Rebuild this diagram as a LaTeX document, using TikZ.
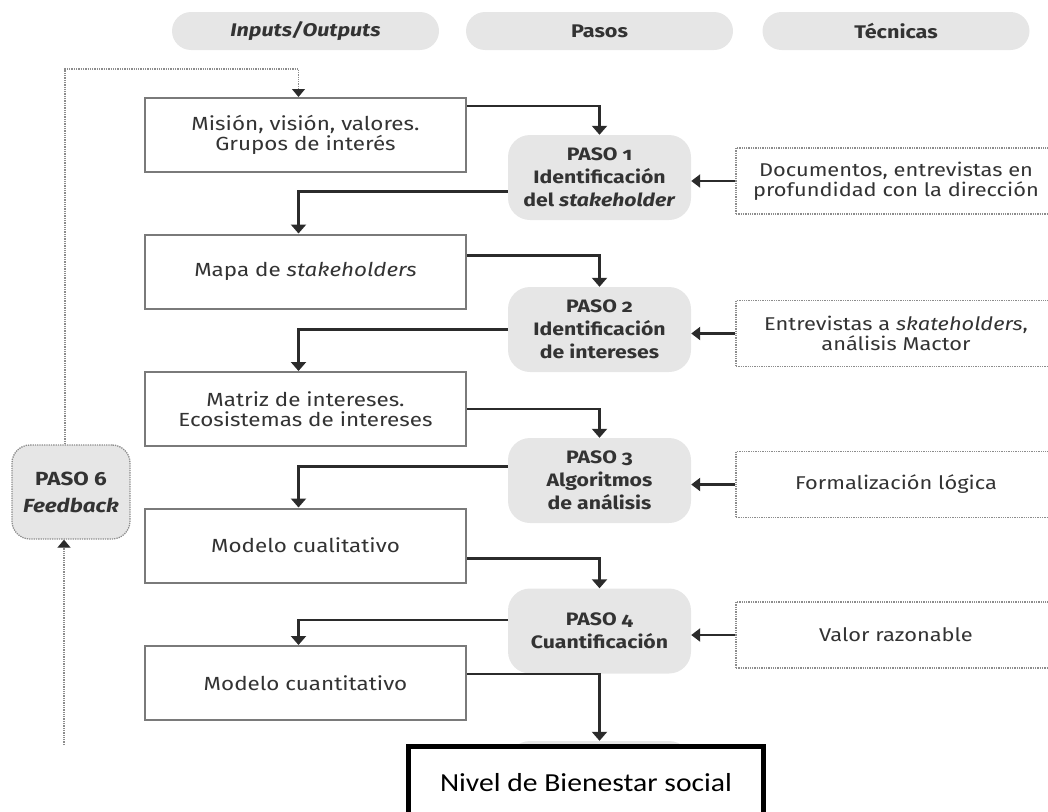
\documentclass[tikz,border=0pt]{standalone}
\usepackage{fontspec}
\setmainfont{Fira Sans}[Numbers=OldStyle, FakeStretch=1.18]
\newfontfamily\calibri{Carlito}[FakeStretch=1.14]
\usetikzlibrary{arrows.meta}

\definecolor{pillgray}{HTML}{E6E6E6}
\definecolor{txtgray}{HTML}{333333}
\definecolor{boxline}{HTML}{7A7A7A}
\definecolor{linegray}{HTML}{2B2B2B}
\definecolor{dotgray}{HTML}{8C8C8C}

\begin{document}
\begin{tikzpicture}[x=1pt,y=-1pt,
    head/.style={fill=pillgray, rounded corners=19pt, minimum width=267pt, minimum height=38pt,
      font=\fontsize{18.3}{20}\selectfont\bfseries, text=txtgray},
    iobox/.style={draw=boxline, line width=2pt, fill=white, minimum width=321pt, minimum height=74pt,
      align=center, font=\fontsize{19}{20}\selectfont, text=txtgray},
    pasobox/.style={fill=pillgray, rounded corners=22pt, minimum width=183pt, minimum height=85pt,
      align=center, font=\fontsize{18}{23}\selectfont\bfseries, text=txtgray},
    tecbox/.style={draw=dotgray, densely dotted, line width=1.3pt, minimum width=320pt, minimum height=66pt,
      align=center, font=\fontsize{18.5}{20}\selectfont, text=txtgray},
    conn/.style={draw=linegray, line width=2.2pt, -{Triangle[width=15pt,length=9pt]}},
    fb/.style={draw=dotgray, densely dotted, line width=1.3pt, -{Triangle[width=13pt,length=8pt,color=linegray]}},
  ]
  % Define the columns
  \def\cio{305.5}
  \def\cpaso{599.5}
  \def\ctec{896}

  \useasboundingbox (0,0) rectangle (1048,811);
  \clip (0,0) rectangle (1048,811);

  % Draw the column headers
  \node[head] (hio) at (\cio,31) {\itshape Inputs/Outputs};
  \node[head] (hpasos) at (\cpaso,31) {Pasos};
  \node[head] (htec) at (\ctec,31) {Técnicas};

  % Draw the inputs/outputs
  \node[iobox] (mision) at (\cio,135) {Misión, visión, valores.\\Grupos de interés};
  \node[iobox] (mapa) at (\cio,271.5) {Mapa de \textit{stakeholders}};
  \node[iobox] (matriz) at (\cio,409) {Matriz de intereses.\\Ecosistemas de intereses};
  \node[iobox] (cualit) at (\cio,545.5) {Modelo cualitativo};
  \node[iobox] (cuantit) at (\cio,683) {Modelo cuantitativo};

  % Draw the steps
  \node[pasobox] (paso1) at (\cpaso,177.5) {PASO 1\\Identificación\\del \textit{stakeholder}};
  \node[pasobox] (paso2) at (\cpaso,329.5) {PASO 2\\Identificación\\de intereses};
  \node[pasobox] (paso3) at (\cpaso,480.5) {PASO 3\\Algoritmos\\de análisis};
  \node[pasobox] (paso4) at (\cpaso,631) {PASO 4\\Cuantificación};
  \node[pasobox] (paso5) at (\cpaso,783.5) {};
  \node[pasobox, draw=dotgray, densely dotted, line width=1.3pt, rounded corners=18pt,
    minimum width=118pt, minimum height=94pt, font=\fontsize{19}{27}\selectfont\bfseries]
    (paso6) at (71,492) {PASO 6\\\textit{Feedback}};

  % Draw the techniques
  \node[tecbox] (tec1) at (\ctec,181) {Documentos, entrevistas en\\profundidad con la dirección};
  \node[tecbox] (tec2) at (\ctec,333.5) {Entrevistas a \textit{skateholders},\\análisis Mactor};
  \node[tecbox] (tec3) at (\ctec,484.5) {Formalización lógica};
  \node[tecbox] (tec4) at (\ctec,635) {Valor razonable};

  % Draw the flow
  \draw[conn] ([yshift=-9pt]mision.north east) -| (paso1.north);
  \draw[conn] ([yshift=-22pt]mapa.north east) -| (paso2.north);
  \draw[conn] ([yshift=-38pt]matriz.north east) -| (paso3.north);
  \draw[conn] ([yshift=-51pt]cualit.north east) -| (paso4.north);
  \draw[conn] ([yshift=-29pt]cuantit.north east) -| (paso5.north);

  \draw[conn] ([yshift=-14pt]paso1.west) -| ([xshift=-7pt]mapa.north);
  \draw[conn] ([yshift=-0pt]paso2.west) -| ([xshift=-7pt]matriz.north);
  \draw[conn] ([yshift=14pt]paso3.west) -| ([xshift=-7pt]cualit.north);
  \draw[conn] ([yshift=11pt]paso4.west) -| ([xshift=-7pt]cuantit.north);

  \foreach \t/\p in {tec1/paso1, tec2/paso2, tec3/paso3, tec4/paso4}
    \draw[conn, -{Triangle[width=13pt,length=9pt]}] (\t.west) -- (\t.west -| \p.east);

  % Draw the feedback loop
  \coordinate (fbend) at (64,745);
  \draw[fb] ([xshift=-6pt]paso6.north) |- ([xshift=-7pt,yshift=28pt]mision.north) -- ([xshift=-7pt]mision.north);
  \draw[fb] (fbend) -- (fbend |- paso6.south);

  % Draw the result
  \node[draw=black, line width=5pt, fill=white, minimum width=355pt, minimum height=72pt,
    font=\calibri\fontsize{26}{30}\selectfont] (nivel) at (586,782.5) {Nivel de Bienestar social};
\end{tikzpicture}
\end{document}
